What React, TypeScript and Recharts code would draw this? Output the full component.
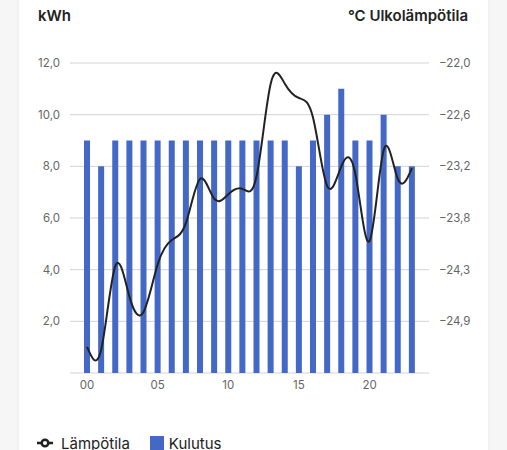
import {
  ComposedChart,
  Bar,
  Line,
  XAxis,
  YAxis,
  CartesianGrid,
  Legend,
} from "recharts";

// Hourly consumption (kWh) and outdoor temperature (°C)
const HOURS = [
  "00", "01", "02", "03", "04", "05", "06", "07", "08", "09", "10", "11",
  "12", "13", "14", "15", "16", "17", "18", "19", "20", "21", "22", "23",
];
const KWH = [9, 8, 9, 9, 9, 9, 9, 9, 9, 9, 9, 9, 9, 9, 9, 8, 9, 10, 11, 9, 9, 10, 8, 8];
const TEMP = [
  -25.2, -25.23, -24.3, -24.64, -24.81, -24.28, -24.01, -23.82, -23.33, -23.55, -23.5, -23.44,
  -23.3, -22.27, -22.27, -22.43, -22.65, -23.41, -23.19, -23.28, -24.02, -23.01, -23.33, -23.21,
];

const KWH_TICKS = [0, 2, 4, 6, 8, 10, 12];
const TEMP_TICKS = [-25.49, -24.915, -24.34, -23.765, -23.19, -22.615, -22.04];

const FONT = "Inter, 'Noto Sans', sans-serif";
const BAR_COLOR = "#4468c6";
const LINE_COLOR = "#222222";
const TICK = { fontFamily: FONT, fontSize: 11.5, fill: "#666666" };

const data = HOURS.map((hour, i) => ({ hour, kwh: KWH[i], temp: TEMP[i] }));

const fmt = (v: number) => v.toFixed(1).replace(".", ",").replace("-", "\u2212");

function LegendContent({ payload }: { payload?: any[] }) {
  const items = [...(payload ?? [])].sort((a, b) =>
    a.value === "Lämpötila" ? -1 : b.value === "Lämpötila" ? 1 : 0
  );
  return (
    <div style={{ display: "flex", alignItems: "center", height: 16 }}>
      {items.map((item) => (
        <div
          key={item.value}
          style={{ display: "flex", alignItems: "center", marginRight: 20 }}
        >
          {item.value === "Lämpötila" ? (
            <svg width={16} height={14} viewBox="0 0 16 14" style={{ marginRight: 8 }}>
              <path d="M0,7 H4 M12,7 H16" stroke={LINE_COLOR} strokeWidth={2.5} />
              <circle cx={8} cy={7} r={3.3} fill="#fff" stroke={LINE_COLOR} strokeWidth={2.5} />
            </svg>
          ) : (
            <svg width={14} height={14} style={{ marginRight: 5 }}>
              <rect width={14} height={14} fill={BAR_COLOR} />
            </svg>
          )}
          <span style={{ fontFamily: FONT, fontSize: 15, color: "#222" }}>{item.value}</span>
        </div>
      ))}
    </div>
  );
}

export default function App() {
  return (
    <div
      style={{
        position: "absolute",
        top: 0,
        left: 0,
        width: 507,
        height: 450,
        background: "#f6f6f6",
        overflow: "hidden",
      }}
    >
      {/* Card */}
      <div
        style={{
          position: "absolute",
          left: 19,
          top: -20,
          width: 469,
          height: 490,
          background: "#ffffff",
          boxShadow: "0 0 4px rgba(0,0,0,0.06)",
        }}
      >
        <div style={{ position: "relative", top: 20, width: 469, height: 450 }}>
          <div
            style={{
              position: "absolute",
              left: 19,
              top: 6,
              fontFamily: FONT,
              fontWeight: 600,
              fontSize: 15,
              color: "#222",
            }}
          >
            kWh
          </div>
          <div
            style={{
              position: "absolute",
              right: 20,
              top: 6,
              fontFamily: FONT,
              fontWeight: 600,
              fontSize: 15,
              color: "#222",
            }}
          >
            °C Ulkolämpötila
          </div>

          <ComposedChart
            width={469}
            height={450}
            data={data}
            margin={{ top: 63, right: 19, bottom: 31, left: 11 }}
          >
            <CartesianGrid yAxisId="kwh" vertical={false} stroke="#d3d3d3" />
            <XAxis
              dataKey="hour"
              interval={4}
              axisLine={false}
              tickLine={false}
              tick={TICK}
              padding={{ left: 10, right: 10 }}
              height={30}
            />
            <YAxis
              yAxisId="kwh"
              domain={[0, 12]}
              ticks={KWH_TICKS}
              tickFormatter={(v: number) => (v === 0 ? "" : fmt(v))}
              axisLine={false}
              tickLine={false}
              tickMargin={4}
              tick={TICK}
              width={40}
            />
            <YAxis
              yAxisId="temp"
              orientation="right"
              domain={[TEMP_TICKS[0], TEMP_TICKS[TEMP_TICKS.length - 1]]}
              ticks={TEMP_TICKS}
              tickFormatter={(v: number) => (v === TEMP_TICKS[0] ? "" : fmt(v))}
              axisLine={false}
              tickLine={false}
              tickMargin={4}
              tick={TICK}
              width={40}
            />
            <Legend
              verticalAlign="bottom"
              content={(props: any) => <LegendContent payload={props.payload} />}
              wrapperStyle={{ left: 18, top: 435, width: "auto" }}
            />
            <Bar
              yAxisId="kwh"
              dataKey="kwh"
              name="Kulutus"
              fill={BAR_COLOR}
              barSize={6}
              isAnimationActive={false}
            />
            <Line
              yAxisId="temp"
              dataKey="temp"
              name="Lämpötila"
              type="natural"
              stroke={LINE_COLOR}
              strokeWidth={2}
              dot={false}
              isAnimationActive={false}
            />
          </ComposedChart>
        </div>
      </div>
    </div>
  );
}
